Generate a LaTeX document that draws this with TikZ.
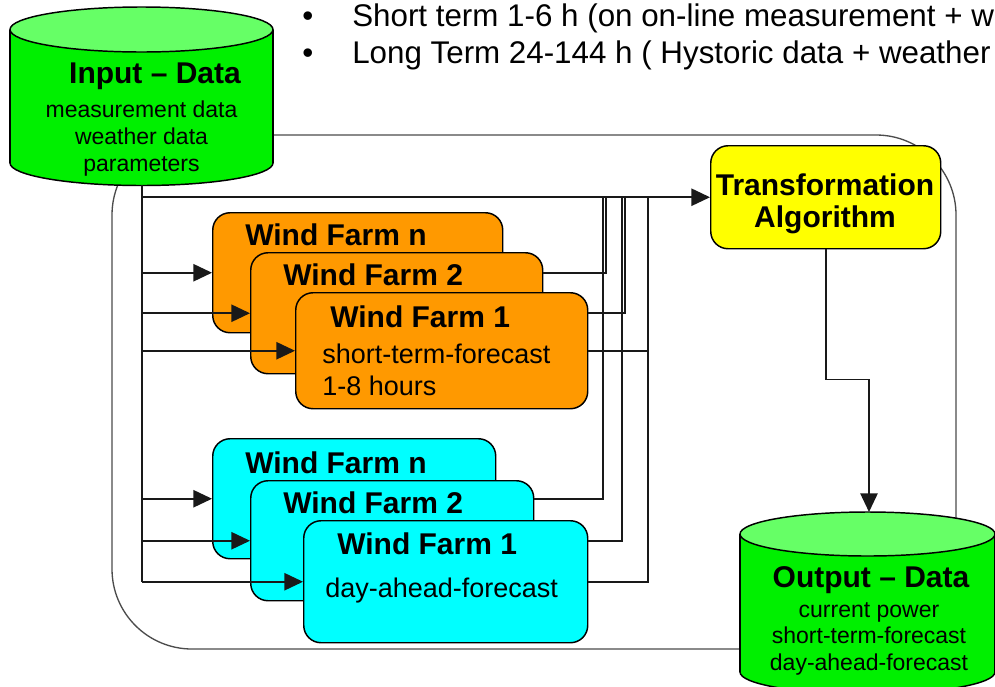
\documentclass[tikz,border=0pt]{standalone}
\usepackage{fontspec}
\setmainfont{Liberation Sans}
\usetikzlibrary{arrows.meta,calc}

\definecolor{drumbody}{RGB}{0,240,0}
\definecolor{drumtop}{RGB}{102,255,102}
\definecolor{stfill}{RGB}{255,153,0}
\definecolor{dafill}{RGB}{0,255,255}
\definecolor{trfill}{RGB}{255,255,0}

% one drawing unit is one pixel of the 995 x 686 sheet
\newdimen\pxu \pxu=0.75pt
\newcommand\fontBold{\fontsize{22.5}{27}\selectfont\bfseries}
\newcommand\fontReg{\fontsize{20.25}{24}\selectfont}
\newcommand\fontSmall{\fontsize{17.25}{20}\selectfont}
\newcommand\fontTop{\fontsize{23.5}{28}\selectfont}

\tikzset{
  frame/.style={draw=black!70, line width=1pt},
  conn/.style={draw=black!90, line width=1.2pt},
  arrowed/.style={conn, -{Triangle[length=14pt,width=13pt]}},
  farm/.style={draw=black, line width=1.1pt, rounded corners=13pt, inner sep=0pt, anchor=north west},
  stbox/.style={farm, fill=stfill},
  dabox/.style={farm, fill=dafill},
  drumline/.style={draw=black, line width=1.1pt},
  lbl/.style={inner sep=0pt, anchor=base west},
  clbl/.style={inner sep=0pt, anchor=base},
}

\begin{document}
\begin{tikzpicture}[x=0.75pt,y=-0.75pt]
\clip (0,0) rectangle (995,686);
\fill[white] (0,0) rectangle (995,686);

% surrounding loop
\draw[frame, rounded corners=60pt] (112,135) rectangle (956,649);

% input drum
\fill[drumbody] (10,29.5) rectangle (273,163);
\begin{scope}
  \clip (0,163) rectangle (300,200);
  \filldraw[fill=drumbody, drumline] (141.5,163) ellipse [x radius=131.5\pxu, y radius=22.5\pxu];
\end{scope}
\draw[drumline] (10,29.5) -- (10,163) (273,29.5) -- (273,163);
\filldraw[fill=drumtop, drumline] (141.5,29.5) ellipse [x radius=131.5\pxu, y radius=22.5\pxu];
\node[inner sep=0pt, minimum width=263\pxu, minimum height=178\pxu] (input) at (142,96) {};
\node[clbl, font=\fontBold] (in-t) at (155,83) {Input – Data};
\node[clbl, font=\fontSmall] (in-a) at (141.5,117) {measurement data};
\node[clbl, font=\fontSmall] (in-b) at (141.5,144) {weather data};
\node[clbl, font=\fontSmall] (in-c) at (141.5,171) {parameters};

% output drum
\fill[drumbody] (740,534) rectangle (995,672);
\begin{scope}
  \clip (700,672) rectangle (1000,720);
  \filldraw[fill=drumbody, drumline] (867.5,672) ellipse [x radius=127.5\pxu, y radius=22\pxu];
\end{scope}
\draw[drumline] (740,534) -- (740,672) (995,534) -- (995,672);
\filldraw[fill=drumtop, drumline] (867.5,534) ellipse [x radius=127.5\pxu, y radius=22\pxu];
\node[inner sep=0pt, minimum width=255\pxu, minimum height=178\pxu, anchor=north] (output) at (869,512) {};
\node[clbl, font=\fontBold] (out-t) at (871,587) {Output – Data};
\node[clbl, font=\fontSmall] (out-a) at (869,617) {current power};
\node[clbl, font=\fontSmall] (out-b) at (869,643) {short-term-forecast};
\node[clbl, font=\fontSmall] (out-c) at (869,670) {day-ahead-forecast};

% transformation step
\node[farm, fill=trfill, minimum width=230\pxu, minimum height=103\pxu] (trans) at (710,145) {};
\node[clbl, font=\fontBold] (tr-a) at (825,195) {Transformation};
\node[clbl, font=\fontBold] (tr-b) at (825,227) {Algorithm};

% short-term forecast stack
\node[stbox, minimum width=290\pxu, minimum height=120\pxu] (sn) at (212,212) {};
\node[lbl, font=\fontBold] (sn-t) at (245,245) {Wind Farm n};
\node[stbox, minimum width=292\pxu, minimum height=121\pxu] (s2) at (250,252) {};
\node[lbl, font=\fontBold] (s2-t) at (283,285) {Wind Farm 2};
\node[stbox, minimum width=292\pxu, minimum height=116\pxu] (s1) at (295,292) {};
\node[lbl, font=\fontBold] (s1-t) at (330,327) {Wind Farm 1};
\node[lbl, font=\fontReg] (s1-a) at (322,363) {short-term-forecast};
\node[lbl, font=\fontReg] (s1-b) at (322,395) {1-8 hours};

% day-ahead forecast stack
\node[dabox, minimum width=283\pxu, minimum height=120\pxu] (dn) at (212,438) {};
\node[lbl, font=\fontBold] (dn-t) at (245,473) {Wind Farm n};
\node[dabox, minimum width=283\pxu, minimum height=120\pxu] (d2) at (250,480) {};
\node[lbl, font=\fontBold] (d2-t) at (283,513) {Wind Farm 2};
\node[dabox, minimum width=284\pxu, minimum height=122\pxu] (d1) at (303,520) {};
\node[lbl, font=\fontBold] (d1-t) at (337,554) {Wind Farm 1};
\node[lbl, font=\fontReg] (d1-a) at (325,597) {day-ahead-forecast};

% distribution bus from the input drum
\coordinate (bus) at (input.south);
\draw[conn] (bus) -- (bus |- d1.west);
\draw[arrowed] (bus |- trans.west) -- (trans.west);
\foreach \b in {sn,s2,s1,dn,d2,d1}
  \draw[arrowed] (bus |- \b.west) -- (\b.west);

% collector lines up to the transformation input
\coordinate (jsn) at (606,196.5);
\coordinate (js2) at (625,196.5);
\coordinate (js1) at (648,196.5);
\coordinate (jdn) at (603,196.5);
\coordinate (jd2) at (622,196.5);
\coordinate (jd1) at (648,196.5);
\draw[conn] (s2.east |- sn.east) -| (jsn);
\draw[conn] (s1.east |- s2.east) -| (js2);
\draw[conn] (s1.east) -| (js1);
\draw[conn] (d2.east |- dn.east) -| (jdn);
\draw[conn] (d1.east |- d2.east) -| (jd2);
\draw[conn] (d1.east) -| (jd1);

% result to the output drum
\draw[arrowed] (trans.south) -- ++(0,130) -| (output.north);

% notes at the top
\node[lbl, font=\fontTop] (b1) at (302,26) {•};
\node[lbl, font=\fontTop] (n1) at (352,26) {Short term 1-6 h (on on-line measurement + w};
\node[lbl, font=\fontTop] (b2) at (302,63) {•};
\node[lbl, font=\fontTop] (n2) at (352,63) {Long Term 24-144 h ( Hystoric data + weather};
\end{tikzpicture}
\end{document}
